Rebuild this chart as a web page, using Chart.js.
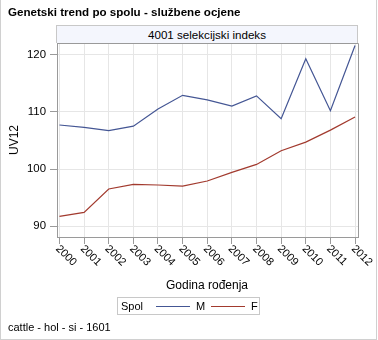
<!DOCTYPE html>
<html>
<head>
<meta charset="utf-8">
<script src="https://cdn.jsdelivr.net/npm/chart.js@4"></script>
<style>
    html, body { margin: 0; padding: 0; background: #fff; }
    body { width: 378px; height: 340px; position: relative; overflow: hidden;
           font-family: "Liberation Sans", Arial, sans-serif; color: #000; }
    #frame { position: absolute; left: 0; top: 0; width: 377px; height: 340px; box-sizing: border-box;
             border-left: 1px solid #d0d0d0; border-right: 1px solid #d0d0d0; border-bottom: 1px solid #d0d0d0; }
    #chart { position: absolute; left: 0; top: 0; }
    .txt { position: absolute; white-space: nowrap; }
    #title { left: 8px; top: 5px; font-size: 11.6px; font-weight: bold; }
    #panel { position: absolute; left: 56px; top: 25px; width: 302px; height: 18px; box-sizing: border-box;
             background: #f4f6fd; border: 1px solid #c8c8c8; border-bottom: none;
             font-size: 11.6px; text-align: center; line-height: 17px; }
    #ytitle { left: 14px; top: 140px; font-size: 12px; transform: translate(-50%, -50%) rotate(-90deg); }
    #xtitle { left: 207px; top: 278px; font-size: 12px; transform: translateX(-50%); }
    #legend { position: absolute; left: 117px; top: 297px; width: 143px; height: 18px; box-sizing: border-box;
              border: 1px solid #c8c8c8; font-size: 11px; }
    #legend span { position: absolute; top: 2px; }
    #legend i { position: absolute; top: 8px; height: 1px; width: 34px; }
    #footer { left: 8px; top: 321px; font-size: 11px; }
</style>
</head>
<body>
<div id="frame"></div>
<canvas id="chart" width="378" height="340"></canvas>
<div id="title" class="txt">Genetski trend po spolu - službene ocjene</div>
<div id="panel">4001 selekcijski indeks</div>
<div id="ytitle" class="txt">UV12</div>
<div id="xtitle" class="txt">Godina rođenja</div>
<div id="legend"></div>
<div id="footer" class="txt">cattle - hol - si - 1601</div>
<script>
// data
const years = [2000, 2001, 2002, 2003, 2004, 2005, 2006, 2007, 2008, 2009, 2010, 2011, 2012];
const maleUV12 = [107.7, 107.3, 106.7, 107.5, 110.5, 112.9, 112.1, 111.0, 112.8, 108.8, 119.3, 110.2, 121.6];
const femaleUV12 = [91.7, 92.4, 96.5, 97.3, 97.2, 97.0, 97.9, 99.4, 100.8, 103.2, 104.7, 106.8, 109.1];
const seriesLabels = ['M', 'F'];
const seriesColors = ['#445694', '#a23a2e'];
const yTicks = [90, 100, 110, 120];

const AXIS_COLOR = '#9a9a9a';
const GRID_COLOR = '#e6e6e6';

function toPoints(values) {
    return years.map((yr, i) => ({ x: yr, y: values[i] }));
}

// legend built from the series
const legendEl = document.getElementById('legend');
legendEl.innerHTML = '<span style="left:3px">Spol</span>' +
    '<i style="left:38px;background:' + seriesColors[0] + '"></i><span style="left:78px">' + seriesLabels[0] + '</span>' +
    '<i style="left:93px;background:' + seriesColors[1] + '"></i><span style="left:133px">' + seriesLabels[1] + '</span>';

// x tick labels go down-right at 45 degrees, chart.js can't rotate that way
const slantedLabels = {
    id: 'slantedLabels',
    afterDraw(chart) {
        const ctx = chart.ctx;
        const xs = chart.scales.x;
        ctx.save();
        ctx.font = '11px "Liberation Sans", Arial, sans-serif';
        ctx.fillStyle = '#000';
        ctx.textAlign = 'left';
        ctx.textBaseline = 'middle';
        years.forEach(yr => {
            const px = xs.getPixelForValue(yr);
            ctx.save();
            ctx.translate(px - 2, xs.top + 10);
            ctx.rotate(Math.PI / 4);
            ctx.fillText(String(yr), 0, 0);
            ctx.restore();
        });
        // top and right edges of the plot frame
        const a = chart.chartArea;
        ctx.strokeStyle = AXIS_COLOR;
        ctx.lineWidth = 1;
        ctx.beginPath();
        ctx.moveTo(a.left, a.top + 0.5);
        ctx.lineTo(a.right + 0.5, a.top + 0.5);
        ctx.lineTo(a.right + 0.5, a.bottom);
        ctx.stroke();
        ctx.restore();
    }
};

new Chart(document.getElementById('chart'), {
    type: 'line',
    data: {
        datasets: [
            { label: seriesLabels[0], data: toPoints(maleUV12), borderColor: seriesColors[0] },
            { label: seriesLabels[1], data: toPoints(femaleUV12), borderColor: seriesColors[1] }
        ]
    },
    options: {
        responsive: false,
        animation: false,
        layout: { padding: { left: 0, top: 43, right: 20, bottom: 73 } },
        elements: {
            line: { borderWidth: 1.2, tension: 0 },
            point: { radius: 0 }
        },
        scales: {
            x: {
                type: 'linear',
                min: 1999.9,
                max: 2012.12,
                afterFit: s => { s.height = 30; },
                border: { color: AXIS_COLOR },
                grid: { color: GRID_COLOR, tickColor: AXIS_COLOR, tickLength: 7 },
                ticks: { stepSize: 1, includeBounds: false, display: false }
            },
            y: {
                min: 88.1,
                max: 122.05,
                afterFit: s => { s.width = 57; },
                afterBuildTicks: s => { s.ticks = yTicks.map(v => ({ value: v })); },
                border: { color: AXIS_COLOR },
                grid: { color: GRID_COLOR, tickColor: AXIS_COLOR, tickLength: 7 },
                ticks: {
                    padding: 4,
                    color: '#000',
                    font: { family: '"Liberation Sans", Arial, sans-serif', size: 11.4 }
                }
            }
        },
        plugins: {
            legend: { display: false },
            tooltip: { enabled: false }
        }
    },
    plugins: [slantedLabels]
});
</script>
</body>
</html>
